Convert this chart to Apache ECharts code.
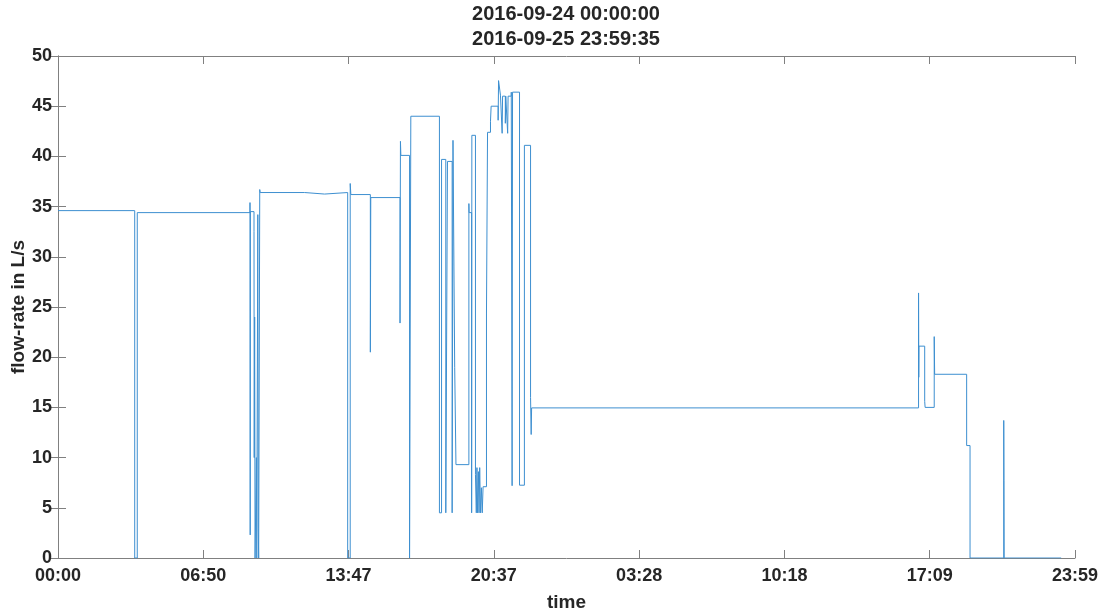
<!DOCTYPE html>
<html>
<head>
<meta charset="utf-8">
<script src="https://cdn.jsdelivr.net/npm/echarts@6/dist/echarts.min.js"></script>
<style>
  html, body { margin: 0; padding: 0; background: #fff; }
  #chart { width: 1104px; height: 614px; }
</style>
</head>
<body>
<div id="chart"></div>
<script>
// hours since 2016-09-24 00:00:00, value holds until the next time (step 'end')
const times = [
  0.00, 3.62, 3.74, 9.06, 9.07, 9.08, 9.25, 9.26, 9.28, 9.30, 9.36, 9.38, 9.43, 9.45, 9.47,
  9.52, 9.54, 11.64, 12.58, 13.67, 13.79, 13.82, 14.74, 14.76, 16.14, 16.16, 16.18, 16.59,
  16.65, 18.00, 18.10, 18.30, 18.38, 18.60, 18.64, 18.72, 18.78, 19.39, 19.40, 19.52, 19.53,
  19.70, 19.74, 19.77, 19.80, 19.84, 19.87, 19.90, 19.94, 19.98, 20.02, 20.06, 20.22, 20.27,
  20.41, 20.44, 20.77, 20.79, 20.88, 20.96, 20.98, 21.11, 21.13, 21.22, 21.24, 21.39, 21.43,
  21.45, 21.78, 22.01, 22.30, 22.33, 22.35, 40.61, 40.62, 40.63, 40.90, 40.92, 41.35, 41.37,
  42.88, 43.04, 44.63, 44.64, 44.65, 47.34
]
const flow = [
  34.6, 0, 34.4, 35.4, 2.3, 34.5, 32.5, 10.0, 24.0, 0, 10.0, 0, 34.2, 2.9, 0,
  36.7, 36.4, 36.25, 36.4, 0, 37.3, 36.2, 20.5, 35.9, 23.4, 41.5, 40.1, 0,
  44.0, 4.5, 39.7, 4.5, 39.5, 4.5, 41.6, 19.0, 9.3, 35.3, 34.4, 4.5, 42.1,
  8.3, 4.5, 9.0, 4.5, 8.6, 4.5, 9.0, 4.5, 7.0, 4.5, 7.1, 24.4, 42.4,
  43.5, 45.0, 43.6, 47.55, 46.1, 42.3, 46.0, 43.3, 46.0, 42.3, 46.0, 46.4, 7.2,
  46.4, 7.25, 41.1, 16.0, 12.3, 14.95, 26.4, 18.0, 21.1, 15.6, 15.0, 22.05, 18.3,
  11.2, 0, 13.7, 7.7, 0, 0
]
const tickLabels = ['00:00', '06:50', '13:47', '20:37', '03:28', '10:18', '17:09', '23:59']
const titleLines = ['2016-09-24 00:00:00', '2016-09-25 23:59:35']

const spanHours = 47.993
const step = spanHours / 7
const font = '"Liberation Sans", Arial, sans-serif'
const textColor = '#262626'
const boxColor = '#808080'

const chart = echarts.init(document.getElementById('chart'))

const baseX = {
  type: 'value',
  min: 0,
  max: step * 7,
  interval: step,
  axisLine: { show: true, onZero: false, lineStyle: { color: boxColor, width: 1 } },
  axisTick: { show: true, inside: true, length: 8, lineStyle: { color: boxColor } },
  splitLine: { show: false }
}
const baseY = {
  type: 'value',
  min: 0,
  max: 50,
  interval: 5,
  axisLine: { show: true, lineStyle: { color: boxColor, width: 1 } },
  axisTick: { show: true, inside: true, length: 8, lineStyle: { color: boxColor } },
  splitLine: { show: false }
}

chart.setOption({
  backgroundColor: '#fff',
  animation: false,
  title: {
    text: titleLines.join('\n'),
    left: 566,
    top: 2,
    textAlign: 'center',
    padding: 0,
    textStyle: { fontFamily: font, fontWeight: 'bold', fontSize: 20, lineHeight: 25, color: textColor }
  },
  grid: { left: 58, right: 29, top: 56, bottom: 56, containLabel: false, outerBoundsMode: 'none' },
  xAxis: [
    Object.assign({}, baseX, {
      position: 'bottom',
      name: 'time',
      nameLocation: 'middle',
      nameGap: 35,
      nameTextStyle: { fontFamily: font, fontWeight: 'bold', fontSize: 19, color: textColor },
      axisLabel: {
        fontFamily: font, fontWeight: 'bold', fontSize: 18, color: textColor, margin: 9,
        showMaxLabel: true,
        formatter: v => tickLabels[Math.round(v / step)]
      }
    }),
    Object.assign({}, baseX, { position: 'top', axisLabel: { show: false } })
  ],
  yAxis: [
    Object.assign({}, baseY, {
      position: 'left',
      name: 'flow-rate in L/s',
      nameLocation: 'middle',
      nameGap: 30,
      nameMoveOverlap: false,
      nameTextStyle: { fontFamily: font, fontWeight: 'bold', fontSize: 19, color: textColor },
      axisLabel: { fontFamily: font, fontWeight: 'bold', fontSize: 18, color: textColor, margin: 6 }
    }),
    Object.assign({}, baseY, { position: 'right', axisLabel: { show: false } })
  ],
  series: [
    {
      type: 'line',
      step: 'end',
      showSymbol: false,
      data: times.map((t, i) => [t, flow[i]]),
      lineStyle: { color: '#3d8fd0', width: 1 },
      itemStyle: { color: '#3d8fd0' }
    }
  ]
})
</script>
</body>
</html>
